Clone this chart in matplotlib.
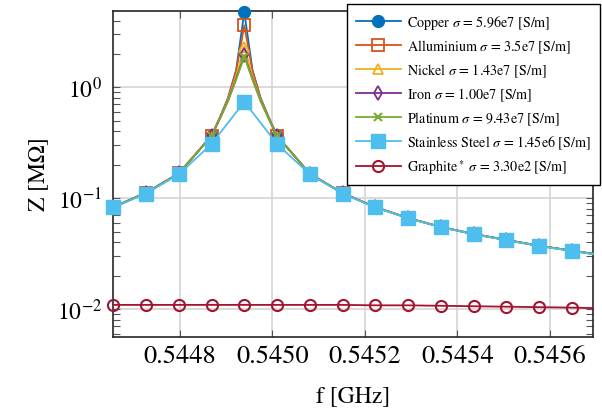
import numpy as np
import matplotlib
matplotlib.use("Agg")
import matplotlib.pyplot as plt

plt.rcParams['font.family'] = ['STIXGeneral', 'DejaVu Sans']
plt.rcParams['mathtext.fontset'] = 'stix'

# ---- data ----
f_markers = [0.544656, 0.5447268, 0.5447976, 0.5448684, 0.5449392, 0.54501,
             0.5450808, 0.5451516, 0.5452224, 0.5452932, 0.545364, 0.5454348,
             0.5455056, 0.5455764, 0.5456472]
f_near_peak = [0.5448861, 0.5449038, 0.5449215, 0.5449569, 0.5449746, 0.5449923]
f_edge = 0.545693

copper = [0.083, 0.112, 0.167, 0.366, 4.75, 0.366, 0.166, 0.111, 0.083, 0.0662,
          0.055, 0.0475, 0.042, 0.0372, 0.0336]
copper_near = [0.53, 0.80, 1.43, 1.43, 0.80, 0.53]
alu = [0.083, 0.112, 0.167, 0.366, 3.62, 0.366, 0.166, 0.111, 0.083, 0.0662,
       0.055, 0.0475, 0.042, 0.0372, 0.0336]
alu_near = [0.53, 0.79, 1.39, 1.39, 0.79, 0.53]
nickel = [0.083, 0.112, 0.167, 0.365, 2.33, 0.365, 0.166, 0.111, 0.083, 0.0662,
          0.055, 0.0475, 0.042, 0.0372, 0.0336]
nickel_near = [0.52, 0.77, 1.26, 1.26, 0.77, 0.52]
iron = [0.083, 0.112, 0.167, 0.364, 1.95, 0.364, 0.166, 0.111, 0.083, 0.0662,
        0.055, 0.0475, 0.042, 0.0372, 0.0336]
iron_near = [0.52, 0.75, 1.19, 1.19, 0.75, 0.52]
platinum = [0.083, 0.112, 0.167, 0.364, 1.89, 0.364, 0.166, 0.111, 0.083, 0.0662,
            0.055, 0.0475, 0.042, 0.0372, 0.0336]
platinum_near = [0.52, 0.75, 1.17, 1.17, 0.75, 0.52]
stainless = [0.0825, 0.110, 0.164, 0.308, 0.74, 0.308, 0.164, 0.110, 0.0825,
             0.066, 0.0548, 0.0473, 0.0418, 0.037, 0.0334]
graphite = [0.0109, 0.0109, 0.0109, 0.0109, 0.0109, 0.0109, 0.0109, 0.0109,
            0.0108, 0.0108, 0.0107, 0.0106, 0.0105, 0.0104, 0.0103]
edge_metal = 0.0315
edge_stainless = 0.0313
edge_graphite = 0.0102

labels = [r"Copper $\sigma$ = 5.96e7 [S/m]",
          r"Alluminium $\sigma$ = 3.5e7 [S/m]",
          r"Nickel $\sigma$ = 1.43e7 [S/m]",
          r"Iron $\sigma$ = 1.00e7 [S/m]",
          r"Platinum $\sigma$ = 9.43e7 [S/m]",
          r"Stainless Steel $\sigma$ = 1.45e6 [S/m]",
          r"Graphite$^*$ $\sigma$ = 3.30e2 [S/m]"]
colors = ['#0072BD', '#D95319', '#EDB120', '#7E2F8E', '#77AC30', '#4DBEEE', '#A2142F']

xticks = [0.5448, 0.5450, 0.5452, 0.5454, 0.5456]
xticklabels = ['0.5448', '0.5450', '0.5452', '0.5454', '0.5456']
xlim = (0.544656, 0.545693)
ylim = (0.00563, 4.91)

fig = plt.figure(figsize=(6.02, 4.14), dpi=100)
ax = fig.add_axes([113.3/602, 1-337.7/414, (593-113.3)/602, (337.7-11.7)/414])


def build(zm, znear, zedge):
    xs = list(f_markers) + [f_edge]
    ys = list(zm) + [zedge]
    if znear is not None:
        xs += list(f_near_peak)
        ys += list(znear)
    order = np.argsort(xs)
    xs = np.array(xs)[order]
    ys = np.array(ys)[order]
    mk = [int(np.where(order == i)[0][0]) for i in range(len(f_markers))]
    return xs, ys, mk


series = [
    (copper, copper_near, edge_metal, dict(marker='o', ms=8.5, mfc=colors[0], mec=colors[0])),
    (alu, alu_near, edge_metal, dict(marker='s', ms=8, mfc='none', mew=1.3, mec=colors[1])),
    (nickel, nickel_near, edge_metal, dict(marker='^', ms=7, mfc='none', mew=1.3, mec=colors[2])),
    (iron, iron_near, edge_metal, dict(marker='d', ms=7, mfc='none', mew=1.3, mec=colors[3])),
    (platinum, platinum_near, edge_metal, dict(marker='x', ms=6, mew=1.5, mec=colors[4])),
    (stainless, None, edge_stainless, dict(marker='s', ms=9.5, mfc=colors[5], mec=colors[5])),
    (graphite, None, edge_graphite, dict(marker='o', ms=8, mfc='none', mew=1.5, mec=colors[6])),
]

for (zm, zn, ze, st), lab, c in zip(series, labels, colors):
    xs, ys, mk = build(zm, zn, ze)
    ax.plot(xs, ys, color=c, lw=1.3, markevery=mk, label=lab, clip_on=False,
            zorder=3, **st)

ax.set_yscale('log')
ax.set_xlim(*xlim)
ax.set_ylim(*ylim)
ax.set_xticks(xticks)
ax.set_xticklabels(xticklabels)
ax.set_yticks([0.01, 0.1, 1])
ax.set_yticklabels([r'$10^{-2}$', r'$10^{-1}$', r'$10^{0}$'])

ax.grid(True, which='major', color='#d4d4d4', lw=1.2)
ax.set_axisbelow(True)
for s in ax.spines.values():
    s.set_color('#262626')
    s.set_linewidth(1.2)
ax.tick_params(which='both', direction='in', top=True, right=True,
               color='#555555', pad=5)
ax.tick_params(which='major', length=5, width=0.8)
ax.tick_params(which='minor', length=5, width=0.8)
ax.tick_params(axis='x', labelsize=19, pad=5)
ax.tick_params(axis='y', labelsize=17, pad=8)

ax.set_xlabel('f [GHz]', fontsize=17, labelpad=12)
ax.set_ylabel(r'Z [M$\Omega$]', fontsize=17, labelpad=4)

leg = ax.legend(loc='upper right', bbox_to_anchor=(600/602, 1-5/414),
                bbox_transform=fig.transFigure, fontsize=10.2, frameon=True,
                fancybox=False, edgecolor='black', framealpha=1,
                handlelength=3.2, handletextpad=0.45, labelspacing=0.47,
                borderpad=0.62, borderaxespad=0)
leg.get_frame().set_linewidth(1.0)
leg.set_zorder(10)

fig.savefig('out.png', dpi=100)
